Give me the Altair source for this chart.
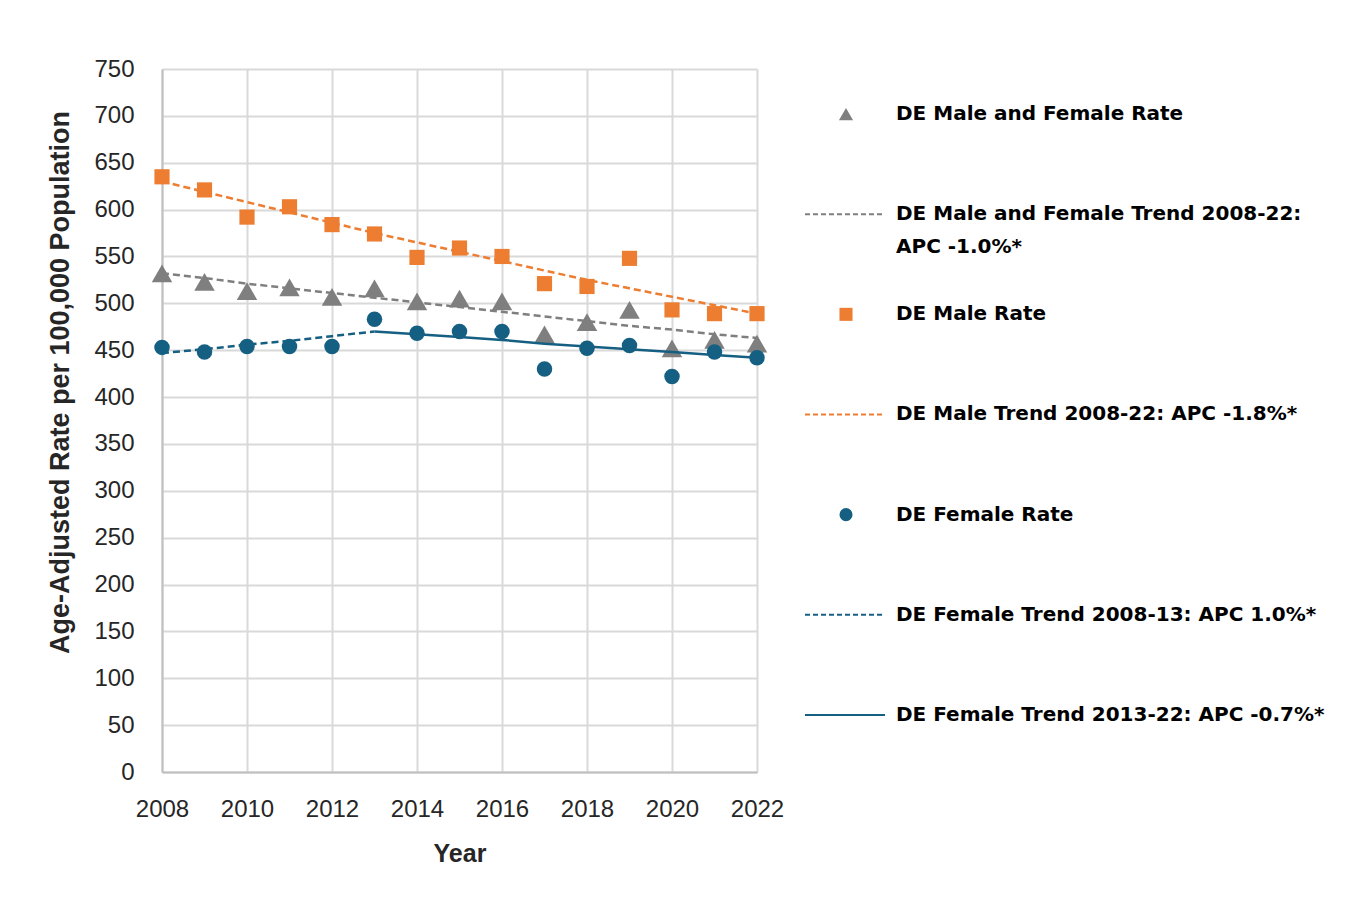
import altair as alt
import pandas as pd

# ---- data ----
years = list(range(2008, 2023))
both_rate = [532, 523, 513, 517, 507, 516, 502, 505, 502, 467, 480, 493, 452, 461, 457]
male_rate = [635, 621, 592, 603, 584, 574, 549, 559, 550, 521, 518, 548, 493, 489, 489]
female_rate = [453, 448, 454, 454, 454, 483, 468, 470, 470, 430, 452, 455, 422, 448, 442]

both_trend = [532, 527, 521, 516, 511, 506, 501, 496, 491, 486, 481, 476, 472, 467, 463]
male_trend = [630, 619, 608, 597, 586, 575, 565, 555, 545, 535, 525, 516, 507, 498, 489]
female_trend1_years = [2008, 2009, 2010, 2011, 2012, 2013]
female_trend1 = [447, 451, 456, 460, 465, 470]
female_trend2_years = [2013, 2014, 2015, 2016, 2017, 2018, 2019, 2020, 2021, 2022]
female_trend2 = [470, 467, 464, 461, 457, 454, 451, 448, 445, 442]

x_ticks = [2008, 2010, 2012, 2014, 2016, 2018, 2020, 2022]
y_ticks = list(range(0, 751, 50))

legend_labels = [
    "DE Male and Female Rate",
    "DE Male and Female Trend 2008-22:",
    "APC -1.0%*",
    "DE Male Rate",
    "DE Male Trend 2008-22: APC -1.8%*",
    "DE Female Rate",
    "DE Female Trend 2008-13: APC 1.0%*",
    "DE Female Trend 2013-22: APC -0.7%*",
]
legend_slots = [0, 1, 1.33, 2, 3, 4, 5, 6]

GRAY = "#7f7f7f"
ORANGE = "#ed7d31"
TEAL = "#156082"
AXIS_FONT = "Liberation Sans"
LEG_FONT = "DejaVu Sans"

W, H = 595, 703

df_rates = pd.DataFrame({"year": years, "both": both_rate, "male": male_rate,
                         "female": female_rate, "both_trend": both_trend,
                         "male_trend": male_trend})
df_f1 = pd.DataFrame({"year": female_trend1_years, "v": female_trend1})
df_f2 = pd.DataFrame({"year": female_trend2_years, "v": female_trend2})

xenc = alt.X("year:Q",
             scale=alt.Scale(domain=[2008, 2022], nice=False, zero=False),
             axis=alt.Axis(values=x_ticks, format="d", title="Year", labelFlush=False,
                           labelPadding=25, titlePadding=20, titleFontSize=25))
yscale = alt.Scale(domain=[0, 750], nice=False)
yaxis = alt.Axis(values=y_ticks, title="Age-Adjusted Rate per 100,000 Population",
                 labelPadding=28, titleX=-102, titleY=313, titleAngle=270,
                 titleAlign="center", titleBaseline="middle", titleFontSize=27)

def yenc(field):
    return alt.Y(f"{field}:Q", scale=yscale, axis=yaxis)

base = alt.Chart(df_rates)
lay_both_pts = base.mark_point(shape="triangle-up", filled=True, size=420, color=GRAY,
                               opacity=1).encode(x=xenc, y=yenc("both"))
lay_both_tr = base.mark_line(color=GRAY, strokeWidth=2.5, strokeDash=[7, 4]).encode(
    x=xenc, y=yenc("both_trend"))
lay_male_pts = base.mark_point(shape="square", filled=True, size=230, color=ORANGE,
                               opacity=1).encode(x=xenc, y=yenc("male"))
lay_male_tr = base.mark_line(color=ORANGE, strokeWidth=2.5, strokeDash=[7, 4]).encode(
    x=xenc, y=yenc("male_trend"))
lay_fem_pts = base.mark_point(shape="circle", filled=True, size=240, color=TEAL,
                              opacity=1).encode(x=xenc, y=yenc("female"))
lay_f1 = alt.Chart(df_f1).mark_line(color=TEAL, strokeWidth=2.5, strokeDash=[7, 4]).encode(
    x=xenc, y=yenc("v"))
lay_f2 = alt.Chart(df_f2).mark_line(color=TEAL, strokeWidth=2.5).encode(x=xenc, y=yenc("v"))

main = alt.layer(lay_both_pts, lay_both_tr, lay_male_pts, lay_male_tr,
                 lay_fem_pts, lay_f1, lay_f2)

# ---- legend (custom, to the right of the plot) ----
ldf = pd.DataFrame({"slot": legend_slots, "label": legend_labels})
lscale = alt.Scale(domain=[-0.45, 6.57], reverse=True, nice=False, zero=False)
ly = alt.Y("slot:Q", scale=lscale, axis=None)

def leg_row(i):
    return alt.Chart(pd.DataFrame({"slot": [legend_slots[i]]}))

SYM_X, L0, L1, TX = 684, 643, 723, 734
leg_layers = [
    leg_row(0).mark_point(shape="triangle-up", filled=True, size=200, color=GRAY,
                          opacity=1).encode(x=alt.value(SYM_X), y=ly),
    leg_row(1).mark_rule(color=GRAY, strokeWidth=2, strokeDash=[5, 3]).encode(
        x=alt.value(L0), x2=alt.value(L1), y=ly),
    leg_row(3).mark_point(shape="square", filled=True, size=170, color=ORANGE,
                          opacity=1).encode(x=alt.value(SYM_X), y=ly),
    leg_row(4).mark_rule(color=ORANGE, strokeWidth=2, strokeDash=[5, 3]).encode(
        x=alt.value(L0), x2=alt.value(L1), y=ly),
    leg_row(5).mark_point(shape="circle", filled=True, size=170, color=TEAL,
                          opacity=1).encode(x=alt.value(SYM_X), y=ly),
    leg_row(6).mark_rule(color=TEAL, strokeWidth=2, strokeDash=[5, 3]).encode(
        x=alt.value(L0), x2=alt.value(L1), y=ly),
    leg_row(7).mark_rule(color=TEAL, strokeWidth=2).encode(
        x=alt.value(L0), x2=alt.value(L1), y=ly),
    alt.Chart(ldf).mark_text(align="left", baseline="middle", font=LEG_FONT,
                             fontSize=20, fontWeight="bold", color="#000000").encode(
        x=alt.value(TX), y=ly, text="label:N"),
]
legend = alt.layer(*leg_layers)

chart = alt.layer(main, legend).resolve_scale(y="independent").properties(
    width=W, height=H, padding={"left": 37, "top": 49, "right": 5, "bottom": 5},
    background="white",
).configure_view(strokeWidth=0).configure_axis(
    grid=True, gridColor="#d9d9d9", gridWidth=2,
    domainColor="#bfbfbf", domainWidth=2, ticks=False,
    labelFont=AXIS_FONT, labelFontSize=24, labelColor="#262626",
    titleFont=AXIS_FONT, titleFontSize=23, titleFontWeight="bold", titleColor="#262626",
)

chart.save("out.html", embed_options={"renderer": "svg", "actions": False})
